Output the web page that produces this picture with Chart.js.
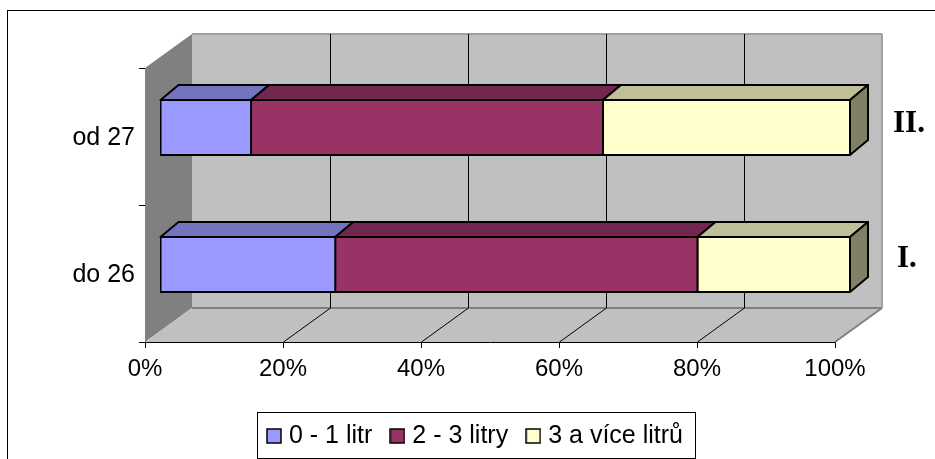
<!DOCTYPE html>
<html lang="cs">
<head>
<meta charset="utf-8">
<title>Litry</title>
<style>
  html, body { margin: 0; padding: 0; background: #fff; overflow: hidden; }
  canvas { display: block; }
</style>
</head>
<body>
<canvas id="chart" width="935" height="459"></canvas>
<script src="https://cdn.jsdelivr.net/npm/chart.js@4"></script>
<script>
  const categories = ['od 27', 'do 26'];
  const seriesNames = ['0 - 1 litr', '2 - 3 litry', '3 a více litrů'];
  const lowUse = [13.2, 25.4];
  const midUse = [51, 52.5];
  const highUse = [35.8, 22.1];
  const xTicks = [0, 20, 40, 60, 80, 100];
  const groupLabels = ['II.', 'I.'];

  const colors = ['#9999FF', '#993366', '#FFFFCC'];
  const topColors = ['#7373BF', '#732650', '#BFBF99'];
  const sideColor = '#808066';

  // fake 3D: full depth of the box, and where the bars sit inside it
  const depth = { x: 47, y: 34 };
  const barFront = { x: 15, y: -9 };
  const barDepth = { x: 18, y: -15 };

  function polygon(ctx, pts, fill, stroke, width) {
    ctx.beginPath();
    pts.forEach((p, i) => i ? ctx.lineTo(p[0], p[1]) : ctx.moveTo(p[0], p[1]));
    ctx.closePath();
    if (fill) { ctx.fillStyle = fill; ctx.fill(); }
    if (stroke) { ctx.strokeStyle = stroke; ctx.lineWidth = width; ctx.stroke(); }
  }

  function line(ctx, x1, y1, x2, y2, color, width) {
    ctx.beginPath();
    ctx.moveTo(x1, y1);
    ctx.lineTo(x2, y2);
    ctx.strokeStyle = color;
    ctx.lineWidth = width;
    ctx.stroke();
  }

  // legend swatches, bigger than the box the legend reserves so text sits close
  function makeSwatch(color) {
    const c = document.createElement('canvas');
    c.width = 16;
    c.height = 16;
    const g = c.getContext('2d');
    g.fillStyle = color;
    g.fillRect(1, 1, 14, 14);
    g.strokeStyle = '#000';
    g.lineWidth = 1.5;
    g.strokeRect(1, 1, 14, 14);
    return c;
  }
  const swatches = colors.map(makeSwatch);

  const box3d = {
    id: 'box3d',
    afterLayout(chart) {
      // legend box sits off-centre in the original
      const lg = chart.legend;
      lg.left = 249;
      lg.right = 935;
      lg.top = 401;
      lg.bottom = 471;
    },
    beforeDraw(chart) {
      const ctx = chart.ctx;
      ctx.save();
      ctx.fillStyle = '#fff';
      ctx.fillRect(0, 0, chart.width, chart.height);
      // outer frame runs off the right and bottom of the picture
      ctx.strokeStyle = '#000';
      ctx.lineWidth = 1;
      ctx.strokeRect(7.5, 10.5, 1000, 1000);
      ctx.strokeRect(257.5, 412.5, 438, 46);
      ctx.restore();
    },
    beforeDatasetsDraw(chart) {
      const ctx = chart.ctx;
      const { left, right, top, bottom } = chart.chartArea;
      const x = chart.scales.x;
      ctx.save();

      // walls and floor
      polygon(ctx, [[left, top], [left + depth.x, top - depth.y], [left + depth.x, bottom - depth.y], [left, bottom]], '#808080');
      polygon(ctx, [[left + depth.x, top - depth.y], [right + depth.x, top - depth.y], [right + depth.x, bottom - depth.y], [left + depth.x, bottom - depth.y]], '#C0C0C0');
      polygon(ctx, [[left, bottom], [left + depth.x, bottom - depth.y], [right + depth.x, bottom - depth.y], [right, bottom]], '#C0C0C0');
      line(ctx, left + depth.x, top - depth.y, right + depth.x, top - depth.y, '#A0A0A0', 2);
      line(ctx, right + depth.x, top - depth.y, right + depth.x, bottom - depth.y, '#A0A0A0', 2);
      line(ctx, left + depth.x, bottom - depth.y, right + depth.x, bottom - depth.y, '#808080', 2);
      line(ctx, right, bottom, right + depth.x, bottom - depth.y, '#808080', 2);

      // gridlines up the back wall and across the floor
      x.ticks.forEach(t => {
        if (t.value === 0 || t.value === 100) return;
        const px = Math.round(x.getPixelForValue(t.value)) + 0.5;
        line(ctx, px + depth.x, top - depth.y, px + depth.x, bottom - depth.y, '#000', 1);
        line(ctx, px, bottom, px + depth.x, bottom - depth.y, '#000', 1);
      });

      // bar tops and end caps, the fronts come from the library
      ctx.lineJoin = 'round';
      ctx.translate(barFront.x, barFront.y);
      chart.data.datasets.forEach((ds, i) => {
        chart.getDatasetMeta(i).data.forEach(bar => {
          const yTop = bar.y - bar.height / 2;
          polygon(ctx, [[bar.base, yTop], [bar.base + barDepth.x, yTop + barDepth.y], [bar.x + barDepth.x, yTop + barDepth.y], [bar.x, yTop]], topColors[i], '#000', 2);
          if (i === chart.data.datasets.length - 1) {
            const yBot = bar.y + bar.height / 2;
            polygon(ctx, [[bar.x, yTop], [bar.x + barDepth.x, yTop + barDepth.y], [bar.x + barDepth.x, yBot + barDepth.y], [bar.x, yBot]], sideColor, '#000', 2);
          }
        });
      });
      ctx.restore();

      ctx.save();
      ctx.translate(barFront.x, barFront.y);
    },
    afterDatasetsDraw(chart) {
      chart.ctx.restore();
    },
    afterDraw(chart) {
      const ctx = chart.ctx;
      ctx.save();
      // I. / II. next to the bars
      ctx.fillStyle = '#000';
      ctx.font = 'bold 31px "Liberation Serif"';
      ctx.textBaseline = 'alphabetic';
      ctx.textAlign = 'left';
      ctx.fillText(groupLabels[0], 893, 132);
      ctx.fillText(groupLabels[1], 897, 267);
      ctx.restore();
    }
  };

  new Chart(document.getElementById('chart'), {
    type: 'bar',
    plugins: [box3d],
    data: {
      labels: categories,
      datasets: [lowUse, midUse, highUse].map((values, i) => ({
        label: seriesNames[i],
        data: values,
        backgroundColor: colors[i],
        borderColor: '#000',
        borderWidth: 2,
        borderSkipped: false,
        inflateAmount: 1,
        barPercentage: 0.4015,
        categoryPercentage: 1
      }))
    },
    options: {
      indexAxis: 'y',
      responsive: false,
      animation: false,
      layout: { padding: { top: 68, right: 100, bottom: 0, left: 0 } },
      scales: {
        x: {
          stacked: true,
          min: 0,
          max: 100,
          afterBuildTicks(scale) { scale.ticks = xTicks.map(value => ({ value })); },
          afterFit(scale) { scale.height = 117 - (scale.chart.legend ? scale.chart.legend.height : 0); },
          ticks: {
            color: '#000',
            font: { family: '"Liberation Sans"', size: 24 },
            padding: 7,
            maxRotation: 0,
            callback: v => v + '%'
          },
          grid: { color: '#000', drawOnChartArea: false, tickLength: 6 },
          border: { color: '#000' }
        },
        y: {
          stacked: true,
          afterFit(scale) { scale.width = 145; },
          ticks: {
            color: '#000',
            font: { family: '"Liberation Sans"', size: 25 },
            padding: 4,
            labelOffset: 2
          },
          grid: { color: '#000', drawOnChartArea: false, tickLength: 6 },
          border: { color: '#000' }
        }
      },
      plugins: {
        tooltip: { enabled: false },
        legend: {
          position: 'bottom',
          align: 'start',
          labels: {
            color: '#000',
            font: { family: '"Liberation Sans"', size: 25 },
            usePointStyle: true,
            pointStyleWidth: 5,
            boxHeight: 15,
            padding: 22.5,
            generateLabels: chart => chart.data.datasets.map((ds, i) => ({
              text: ds.label,
              pointStyle: swatches[i],
              datasetIndex: i,
              fontColor: '#000'
            }))
          }
        }
      }
    }
  });
</script>
</body>
</html>
